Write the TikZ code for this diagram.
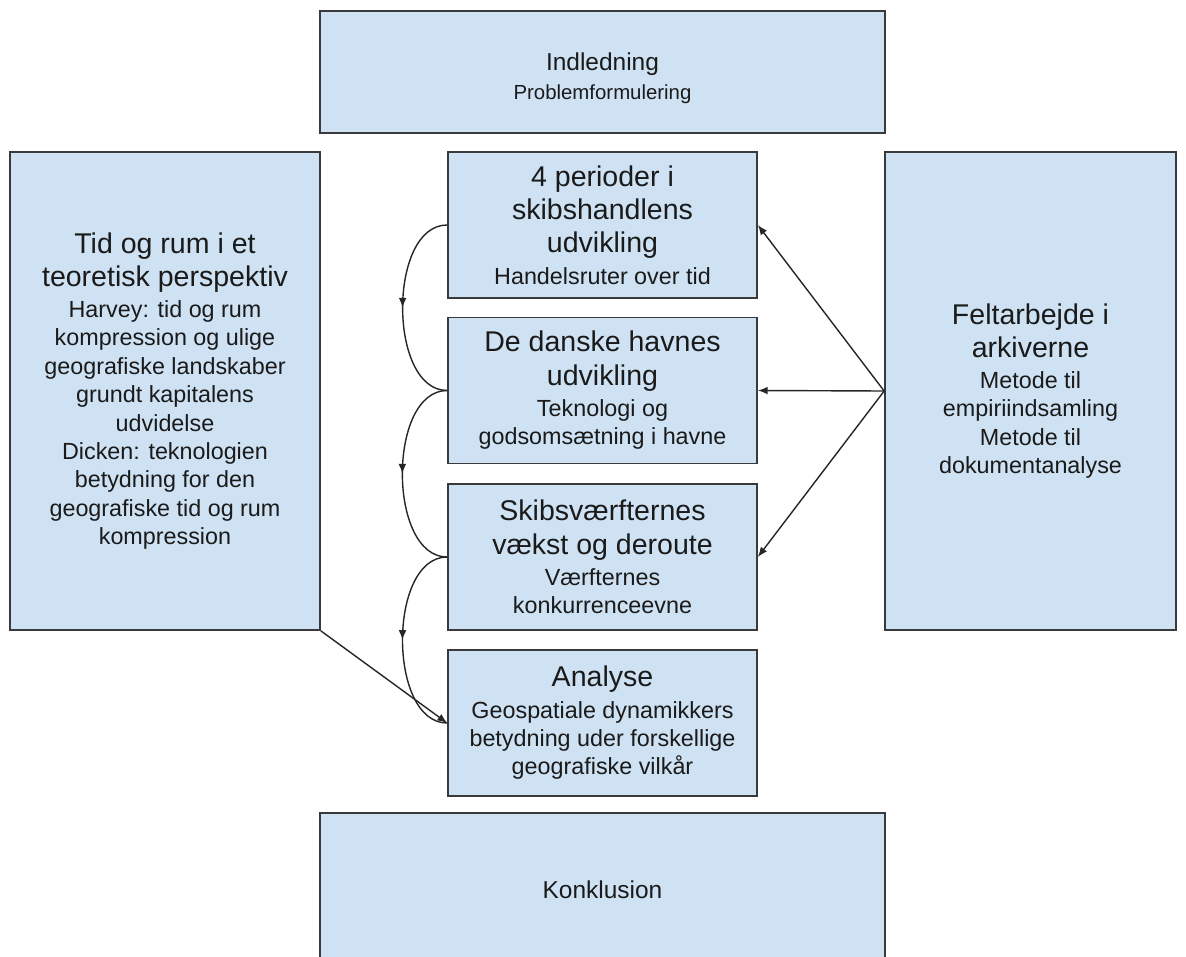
\documentclass[tikz,border=0pt]{standalone}
\usepackage{fontspec}
\setmainfont{Liberation Sans}
\usepackage{xcolor}
\usepackage{tikz}
\usetikzlibrary{arrows.meta, positioning, decorations.markings}

\definecolor{boxfill}{HTML}{CFE2F3}
\definecolor{boxline}{HTML}{3A3A3A}
\definecolor{inktext}{HTML}{1A1A1A}
\definecolor{arrowline}{HTML}{262626}

\newcommand{\headfont}{\fontsize{20.3}{23.5}\selectfont}
\newcommand{\notefont}{\fontsize{16.6}{20.2}\selectfont}
\newcommand{\outerhead}{\fontsize{17.4}{20.5}\selectfont}
\newcommand{\outernote}{\fontsize{14.5}{17.5}\selectfont}

\begin{document}
\begin{tikzpicture}[
    chapterbox/.style={
        rectangle,
        draw=boxline,
        line width=1.2pt,
        fill=boxfill,
        text=inktext,
        align=center,
        inner sep=2pt,
        font=\notefont
    },
    widebox/.style={chapterbox, minimum width=14.125cm, minimum height=3.05cm},
    sidebox/.style={chapterbox, minimum height=11.95cm},
    midbox/.style={chapterbox, minimum width=7.725cm, minimum height=3.65cm},
    mainarrow/.style={draw=arrowline, line width=1pt, -{Latex[length=7pt,width=5.5pt]}},
    curvearrow/.style={draw=arrowline, line width=1pt,
        decoration={markings, mark=at position 0.5 with {\arrow{Latex[length=7pt,width=5.5pt]}}},
        postaction={decorate}}
]

\useasboundingbox (0,0) rectangle (29.65,-23.9);
\clip (0,0) rectangle (29.65,-23.9);

\node[widebox] (introbox) at (15.0625,-1.8) {};
\node[align=center, text=inktext, font=\outernote] (introtext) at (15.0625,-1.95)
    {{\outerhead Indledning}\\[3pt]Problemformulering};

\node[sidebox, minimum width=7.75cm] (theorybox) at (4.125,-9.775)
    {{\headfont Tid og rum i et}\\[3.5pt]{\headfont teoretisk perspektiv}\\[2pt]
     Harvey: tid og rum\\kompression og ulige\\geografiske landskaber\\
     grundt kapitalens\\udvidelse\\Dicken: teknologien\\betydning for den\\
     geografiske tid og rum\\kompression};

\node[sidebox, minimum width=7.275cm] (fieldbox) at (25.7625,-9.775)
    {{\headfont Feltarbejde i}\\[3.5pt]{\headfont arkiverne}\\[2pt]
     Metode til\\empiriindsamling\\Metode til\\dokumentanalyse};

\node[midbox] (periodbox) at (15.0625,-5.625)
    {{\headfont 4 perioder i}\\[3.5pt]{\headfont skibshandlens}\\[3.5pt]{\headfont udvikling}\\[2pt]
     Handelsruter over tid};
\node[midbox] (harbourbox) at (15.0625,-9.7625)
    {{\headfont De danske havnes}\\[3.5pt]{\headfont udvikling}\\[2pt]
     Teknologi og\\godsomsætning i havne};
\node[midbox] (yardbox) at (15.0625,-13.925)
    {{\headfont Skibsværfternes}\\[3.5pt]{\headfont vækst og deroute}\\[2pt]
     Værfternes\\konkurrenceevne};
\node[midbox] (analysisbox) at (15.0625,-18.075)
    {{\headfont Analyse}\\[2pt]Geospatiale dynamikkers\\betydning uder forskellige\\
     geografiske vilkår};

\node[widebox, minimum height=3.825cm] (conclbox) at (15.0625,-22.2375)
    {\outerhead Konklusion};

% chain down the middle column
\draw[curvearrow] (periodbox.west) to[out=180, in=180, looseness=0.92] (harbourbox.west);
\draw[curvearrow] (harbourbox.west) to[out=180, in=180, looseness=0.92] (yardbox.west);
\draw[curvearrow] (yardbox.west) to[out=180, in=180, looseness=0.92] (analysisbox.west);

% archive work feeds the three studies
\draw[mainarrow] (fieldbox.west) -- (periodbox.east);
\draw[mainarrow] (fieldbox.west) -- (harbourbox.east);
\draw[mainarrow] (fieldbox.west) -- (yardbox.east);

\draw[mainarrow] (theorybox.south east) -- (analysisbox.west);

\end{tikzpicture}
\end{document}
